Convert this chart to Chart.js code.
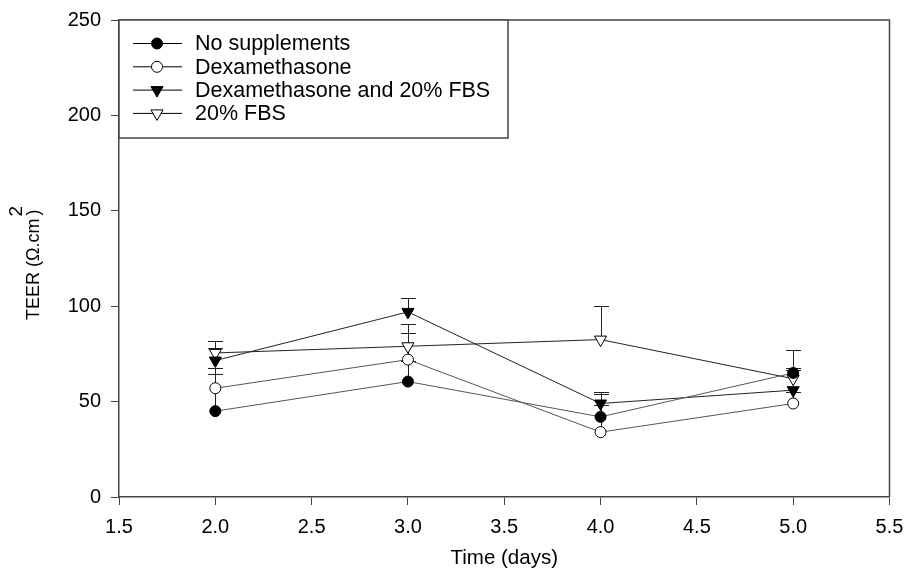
<!DOCTYPE html>
<html>
<head>
<meta charset="utf-8">
<script src="https://cdn.jsdelivr.net/npm/chart.js@4"></script>
<style>
  body { margin: 0; background: #fff; }
  #wrap { width: 906px; height: 573px; }
</style>
</head>
<body>
<div id="wrap"><canvas id="teerChart" width="906" height="573"></canvas></div>
<script>
// values (TEER, ohm.cm2) with upper error bars
const days = [2, 3, 4, 5];
const noSupp = [45, 60.5, 42, 65];
const noSuppErr = [19.5, 11, 6, 12];
const dexa = [57, 72, 34, 49];
const dexaErr = [10.6, 14, 20, 6];
const dexaFbs = [71.5, 97, 49, 56];
const dexaFbsErr = [6.5, 7.5, 6, 10.5];
const fbs = [75.5, 79, 82.5, 62];
const fbsErr = [6, 11.5, 17.5, 5.5];

const xTicks = [1.5, 2.0, 2.5, 3.0, 3.5, 4.0, 4.5, 5.0, 5.5];
const yTicks = [0, 50, 100, 150, 200, 250];

const FONT = "'Liberation Sans', Arial, sans-serif";

function toPoints(ys) {
  return days.map((d, i) => ({ x: d, y: ys[i] }));
}

function series(label, ys, errs, shape, filled, lineColor) {
  return {
    label: label,
    data: toPoints(ys),
    errors: errs,
    showLine: true,
    borderColor: lineColor,
    borderWidth: 1,
    pointStyle: shape === "tri" ? "triangle" : "circle",
    pointRotation: shape === "tri" ? 180 : 0,
    pointRadius: shape === "tri" ? 7 : 5.5,
    pointBackgroundColor: filled ? "#000" : "#fff",
    pointBorderColor: "#000",
    pointBorderWidth: 1
  };
}

// upper error bars, drawn under the markers
const errorBars = {
  id: "errorBars",
  beforeDatasetsDraw(chart) {
    const ctx = chart.ctx;
    const xs = chart.scales.x, ys = chart.scales.y;
    ctx.save();
    ctx.strokeStyle = "#222";
    ctx.lineWidth = 1;
    chart.data.datasets.forEach(ds => {
      ds.data.forEach((p, i) => {
        const px = Math.round(xs.getPixelForValue(p.x)) + 0.5;
        const y0 = ys.getPixelForValue(p.y);
        const y1 = Math.round(ys.getPixelForValue(p.y + ds.errors[i])) + 0.5;
        ctx.beginPath();
        ctx.moveTo(px, y0);
        ctx.lineTo(px, y1);
        ctx.moveTo(px - 7.5, y1);
        ctx.lineTo(px + 7.5, y1);
        ctx.stroke();
      });
    });
    ctx.restore();
  }
};

function drawMarker(ctx, ds, x, y) {
  ctx.beginPath();
  if (ds.pointStyle === "circle") {
    ctx.arc(x, y, ds.pointRadius, 0, Math.PI * 2);
  } else {
    const r = ds.pointRadius;
    ctx.moveTo(x - r * 0.866, y - r / 2);
    ctx.lineTo(x + r * 0.866, y - r / 2);
    ctx.lineTo(x, y + r);
    ctx.closePath();
  }
  ctx.fillStyle = ds.pointBackgroundColor;
  ctx.fill();
  ctx.strokeStyle = "#000";
  ctx.lineWidth = 1;
  ctx.stroke();
}

// frame, legend box and y title
const decorations = {
  id: "decorations",
  afterDraw(chart) {
    const ctx = chart.ctx;
    const a = chart.chartArea;
    ctx.save();

    // top and right frame
    ctx.strokeStyle = "#444";
    ctx.lineWidth = 1.5;
    ctx.beginPath();
    ctx.moveTo(a.left, a.top);
    ctx.lineTo(a.right, a.top);
    ctx.lineTo(a.right, a.bottom);
    ctx.stroke();

    // legend
    const bx = a.left, by = a.top, bw = 389, bh = 118;
    ctx.fillStyle = "#fff";
    ctx.fillRect(bx, by, bw, bh);
    ctx.strokeStyle = "#444";
    ctx.lineWidth = 1.5;
    ctx.strokeRect(bx, by, bw, bh);
    ctx.font = "21.5px " + FONT;
    ctx.textBaseline = "middle";
    chart.data.datasets.forEach((ds, i) => {
      const ry = by + 23.5 + i * 23.3;
      ctx.strokeStyle = "#000";
      ctx.lineWidth = 1;
      ctx.beginPath();
      ctx.moveTo(bx + 14, ry);
      ctx.lineTo(bx + 63, ry);
      ctx.stroke();
      drawMarker(ctx, ds, bx + 38, ry);
      ctx.fillStyle = "#000";
      ctx.textAlign = "left";
      ctx.fillText(ds.label, bx + 76, ry + 1);
    });

    // y axis title with superscript
    ctx.translate(33, 320);
    ctx.rotate(-Math.PI / 2);
    ctx.fillStyle = "#000";
    ctx.font = "18px " + FONT;
    ctx.textBaseline = "middle";
    ctx.textAlign = "left";
    const main = "TEER (\u03A9.cm";
    const wMain = ctx.measureText(main).width;
    ctx.fillText(main, 0, 1);
    ctx.fillText(")", wMain + 3, 1);
    ctx.font = "19px " + FONT;
    ctx.fillText("2", wMain + 2, -16);
    ctx.restore();
  }
};

new Chart(document.getElementById("teerChart"), {
  type: "scatter",
  data: {
    datasets: [
      series("No supplements", noSupp, noSuppErr, "circle", true, "#555"),
      series("Dexamethasone", dexa, dexaErr, "circle", false, "#555"),
      series("Dexamethasone and 20% FBS", dexaFbs, dexaFbsErr, "tri", true, "#222"),
      series("20% FBS", fbs, fbsErr, "tri", false, "#222")
    ]
  },
  options: {
    responsive: false,
    animation: false,
    layout: { padding: { top: 20, right: 16.5, left: 0, bottom: 0 } },
    plugins: {
      legend: { display: false },
      tooltip: { enabled: false }
    },
    scales: {
      x: {
        type: "linear",
        min: xTicks[0],
        max: xTicks[xTicks.length - 1],
        afterBuildTicks: s => { s.ticks = xTicks.map(v => ({ value: v })); },
        afterFit: s => {
          s.height = 76;
          s.paddingLeft = 0;
          s.paddingRight = 0;
        },
        grid: { drawOnChartArea: false, drawTicks: true, tickLength: 8, color: "#444" },
        border: { color: "#444", width: 1.5 },
        ticks: {
          color: "#000",
          font: { family: FONT, size: 20 },
          padding: 10,
          maxRotation: 0,
          callback: v => v.toFixed(1)
        },
        title: {
          display: true,
          text: "Time (days)",
          color: "#000",
          font: { family: FONT, size: 20.5 },
          padding: { top: 0, bottom: 2 }
        }
      },
      y: {
        type: "linear",
        min: yTicks[0],
        max: yTicks[yTicks.length - 1],
        afterBuildTicks: s => { s.ticks = yTicks.map(v => ({ value: v })); },
        afterFit: s => {
          s.width = 119;
          s.paddingTop = 0;
          s.paddingBottom = 0;
        },
        grid: { drawOnChartArea: false, drawTicks: true, tickLength: 8, color: "#444" },
        border: { color: "#444", width: 1.5 },
        ticks: {
          color: "#000",
          font: { family: FONT, size: 20 },
          padding: 10
        }
      }
    }
  },
  plugins: [errorBars, decorations]
});
</script>
</body>
</html>
